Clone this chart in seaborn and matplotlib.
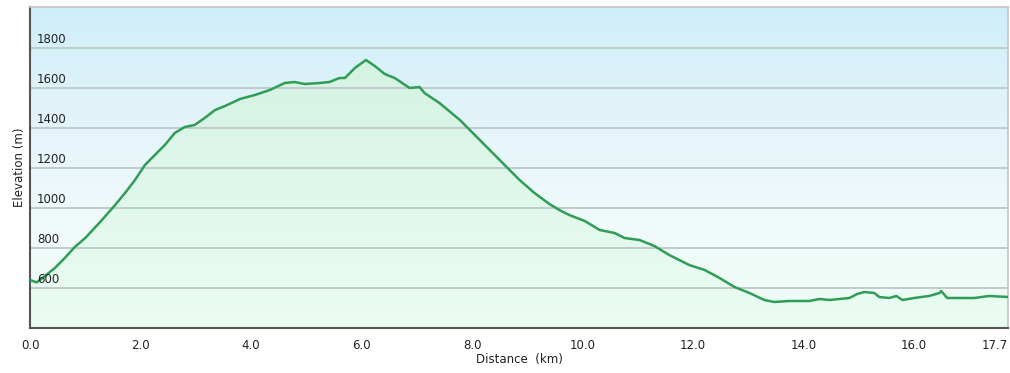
import numpy as np
import pandas as pd
import matplotlib
matplotlib.use("Agg")
import matplotlib.pyplot as plt
import seaborn as sns
from matplotlib.colors import LinearSegmentedColormap

# elevation profile
distance_km = [0.00, 0.12, 0.27, 0.45, 0.63, 0.81, 1.00, 1.27, 1.54, 1.72, 1.90,
               2.08, 2.26, 2.44, 2.62, 2.80, 2.98, 3.16, 3.35, 3.53, 3.80, 4.07,
               4.34, 4.61, 4.79, 4.97, 5.24, 5.42, 5.60, 5.70, 5.88, 6.08, 6.24,
               6.42, 6.60, 6.87, 7.05, 7.14, 7.41, 7.78, 8.05, 8.32, 8.59, 8.86,
               9.13, 9.40, 9.58, 9.76, 10.04, 10.31, 10.58, 10.76, 11.03, 11.30,
               11.57, 11.93, 12.21, 12.48, 12.75, 13.02, 13.29, 13.47, 13.74,
               14.10, 14.29, 14.47, 14.83, 14.97, 15.10, 15.28, 15.37, 15.55,
               15.68, 15.79, 16.00, 16.27, 16.46, 16.49, 16.60, 16.82, 17.09,
               17.36, 17.70]
elevation_m = [640, 628, 660, 700, 750, 805, 850, 930, 1015, 1075, 1140,
               1215, 1265, 1315, 1375, 1405, 1415, 1450, 1490, 1510, 1545, 1565,
               1590, 1625, 1630, 1620, 1625, 1630, 1650, 1650, 1700, 1740, 1710,
               1670, 1650, 1600, 1605, 1575, 1525, 1440, 1365, 1290, 1215, 1140,
               1075, 1020, 990, 965, 935, 890, 875, 850, 840, 810,
               765, 715, 690, 650, 605, 575, 540, 530, 535,
               535, 545, 540, 550, 570, 580, 575, 555, 550,
               560, 540, 550, 560, 575, 585, 550, 550, 550,
               560, 555]

x_ticks = [0.0, 2.0, 4.0, 6.0, 8.0, 10.0, 12.0, 14.0, 16.0, 17.7]
y_ticks = [600, 800, 1000, 1200, 1400, 1600, 1800]

df = pd.DataFrame({"distance": distance_km, "elevation": elevation_m})

sns.set_style("white")
plt.rcParams['font.family'] = ['DejaVu Sans']

fig = plt.figure(figsize=(10.10, 3.73), dpi=100)
ax = fig.add_axes([30 / 1010, 45 / 373, 978 / 1010, 321 / 373])

xmin, xmax = 0.0, 17.7
ymin, ymax = 400, 2005
ax.set_xlim(xmin, xmax)
ax.set_ylim(ymin, ymax)

# background gradient: light blue at top fading to pale mint at bottom
bg_cmap = LinearSegmentedColormap.from_list(
    "bg", ["#eefcf3", "#f1fafb", "#e2f4fa", "#cfeef9"])
grad = np.linspace(0, 1, 256).reshape(-1, 1)
ax.imshow(grad, aspect="auto", cmap=bg_cmap, origin="lower",
          extent=[xmin, xmax, ymin, ymax], zorder=0)

# gradient fill under the profile, clipped to the area below the line
fill_cmap = LinearSegmentedColormap.from_list(
    "fill", ["#ebfcf2", "#e0f8ec", "#d4f2e2"])
poly = ax.fill_between(df["distance"], df["elevation"], ymin,
                       color="none", lw=0)
fill_img = ax.imshow(grad, aspect="auto", cmap=fill_cmap, origin="lower",
                     extent=[xmin, xmax, ymin, max(elevation_m)], zorder=1)
path = poly.get_paths()[0]
fill_img.set_clip_path(path, transform=ax.transData)

# horizontal grid lines
for yv in y_ticks:
    ax.axhline(yv, color="#c0cacd", lw=1.4, zorder=2)

sns.lineplot(data=df, x="distance", y="elevation", ax=ax,
             color="#2f9d55", lw=1.8, zorder=3)

# y tick labels sit inside the plot, just above each grid line
ax.set_yticks(y_ticks)
ax.set_yticklabels([])
ax.tick_params(axis="y", length=0)
for yv in y_ticks:
    ax.text(0.007, yv + 12, f"{yv}", transform=ax.get_yaxis_transform(),
            ha="left", va="bottom", fontsize=8.5, color="#222222", zorder=4)

ax.set_xticks(x_ticks)
ax.set_xticklabels([f"{v:.1f}" for v in x_ticks], fontsize=8.5, color="#222222")
ax.get_xticklabels()[-1].set_horizontalalignment("right")
ax.tick_params(axis="x", direction="out", length=5, width=1,
               color="#555555", pad=3)

ax.set_xlabel("Distance  (km)", fontsize=8.5, color="#222222", labelpad=1)
ax.set_ylabel("Elevation (m)", fontsize=8.5, color="#222222")
ax.yaxis.set_label_coords(-0.004, 0.5)

for side in ["left", "bottom"]:
    ax.spines[side].set_color("#555555")
    ax.spines[side].set_linewidth(1.5)
for side in ["top", "right"]:
    ax.spines[side].set_color("#c4c4c4")
    ax.spines[side].set_linewidth(1.2)

fig.savefig("out.png", dpi=100)
